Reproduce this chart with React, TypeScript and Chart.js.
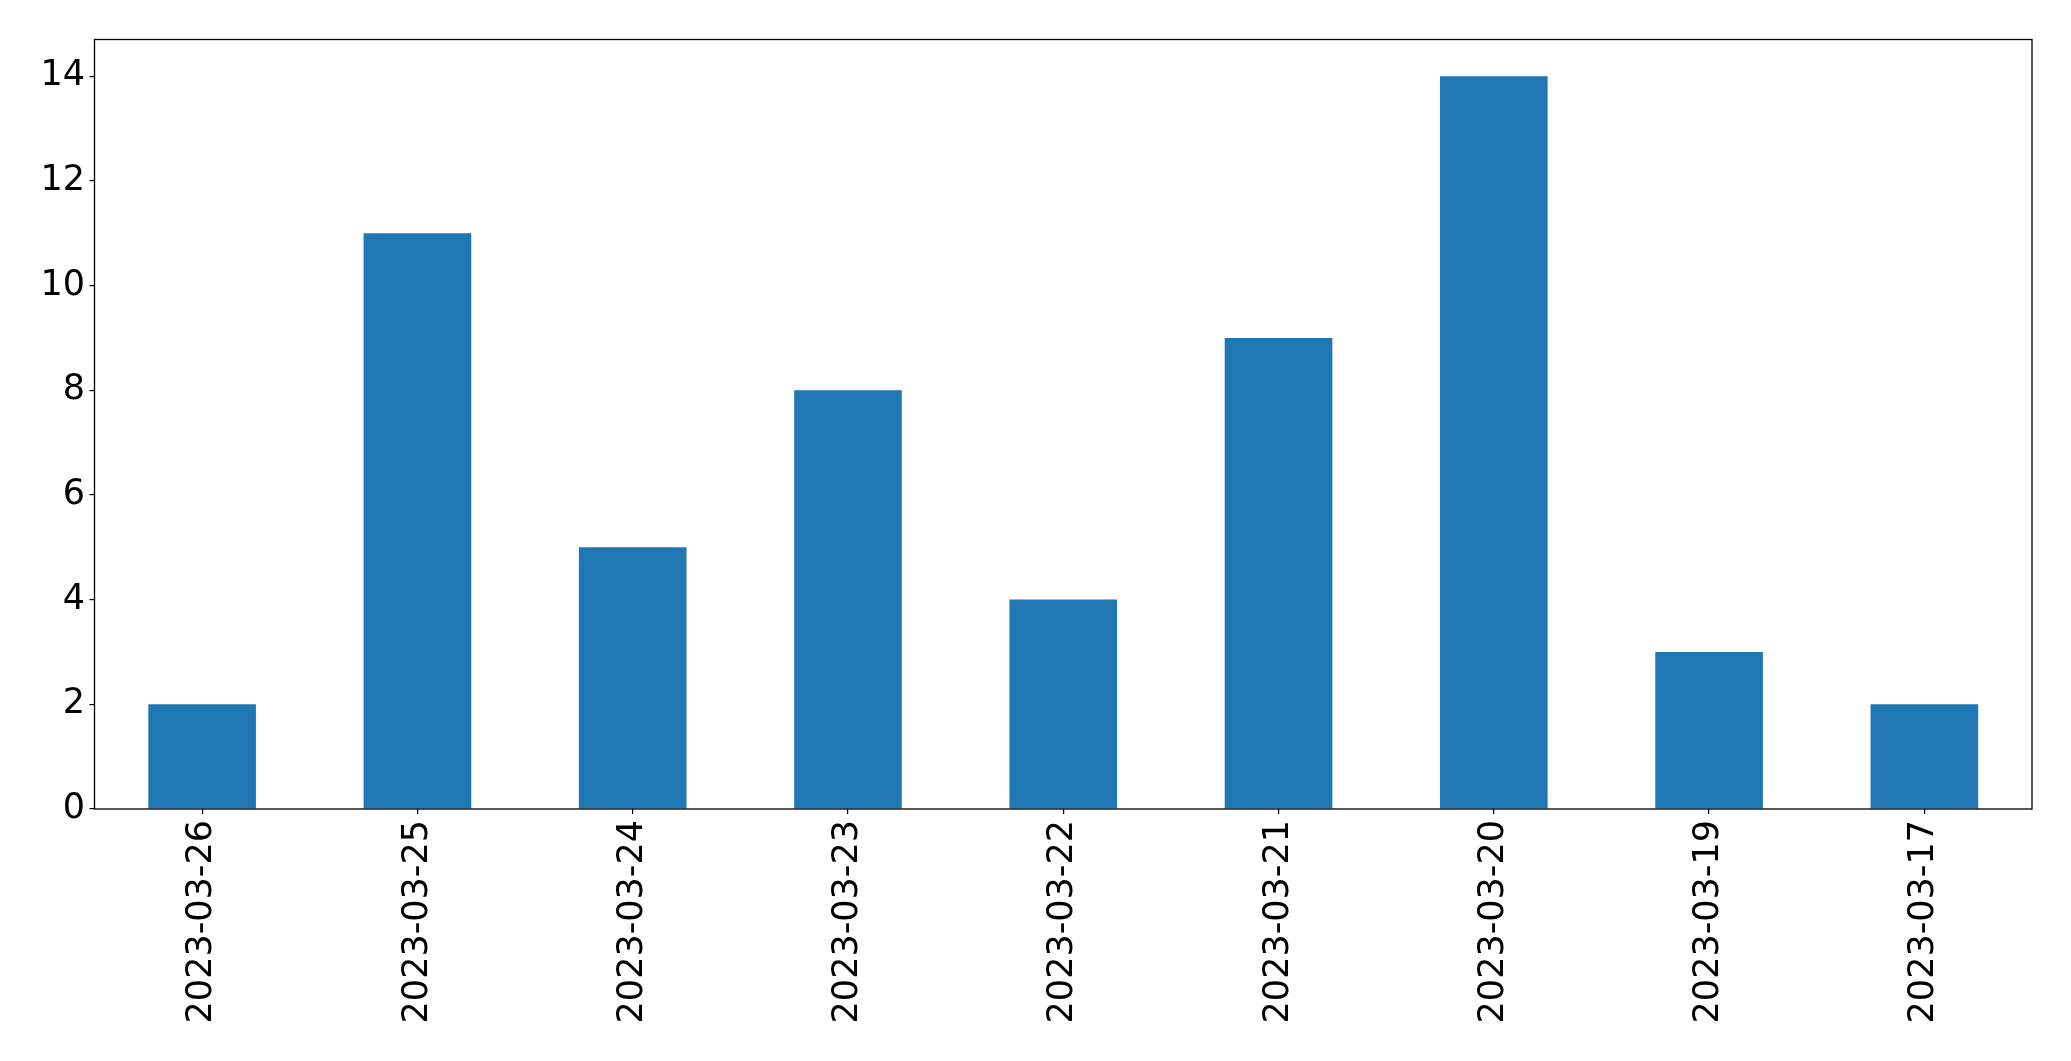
import React, { useEffect, useRef } from "react";
import { Chart, registerables } from "chart.js";

Chart.register(...registerables);

const categories = [
  "2023-03-26",
  "2023-03-25",
  "2023-03-24",
  "2023-03-23",
  "2023-03-22",
  "2023-03-21",
  "2023-03-20",
  "2023-03-19",
  "2023-03-17",
];
const values = [2, 11, 5, 8, 4, 9, 14, 3, 2];
const yTicks = [0, 2, 4, 6, 8, 10, 12, 14];
const yMax = 14.7;

const W = 2071;
const H = 1061;
const FONT = "'DejaVu Sans', sans-serif";

export default function App() {
  const ref = useRef<HTMLCanvasElement | null>(null);
  useEffect(() => {
    if (!ref.current) return;
    const frame = {
      id: "frame",
      afterDatasetsDraw(chart: any) {
        const { ctx, chartArea } = chart;
        ctx.save();
        ctx.strokeStyle = "#000";
        ctx.lineWidth = 1.3;
        ctx.strokeRect(chartArea.left, chartArea.top, chartArea.right - chartArea.left, chartArea.bottom - chartArea.top);
        ctx.restore();
      },
    };
    const chart = new Chart(ref.current, {
      type: "bar",
      data: {
        labels: categories,
        datasets: [
          {
            data: values,
            backgroundColor: "#1f77b4",
            borderWidth: 0,
            categoryPercentage: 1,
            barPercentage: 0.5,
          },
        ],
      },
      options: {
        responsive: false,
        animation: false,
        devicePixelRatio: 1,
        layout: { padding: { top: 39.5, right: 39, left: 0, bottom: 0 } },
        plugins: { legend: { display: false }, tooltip: { enabled: false } },
        scales: {
          x: {
            offset: true,
            grid: {
              display: true,
              drawOnChartArea: false,
              drawTicks: true,
              tickLength: 5,
              tickColor: "#000",
              offset: false,
              lineWidth: 1.2,
            },
            border: { display: false },
            ticks: {
              color: "#000",
              font: { family: FONT, size: 35 },
              maxRotation: 90,
              minRotation: 90,
              padding: 6,
              autoSkip: false,
            },
            afterFit(scale: any) {
              scale.height = 252;
            },
          },
          y: {
            min: 0,
            max: yMax,
            grid: {
              display: true,
              drawOnChartArea: false,
              drawTicks: true,
              tickLength: 5,
              tickColor: "#000",
              lineWidth: 1.2,
            },
            border: { display: false },
            ticks: {
              color: "#000",
              font: { family: FONT, size: 35 },
              padding: 4.5,
              includeBounds: false,
            },
            afterBuildTicks(scale: any) {
              scale.ticks = yTicks.map((v) => ({ value: v }));
            },
            afterFit(scale: any) {
              scale.width = 94.5;
            },
          },
        },
      },
      plugins: [frame],
    });
    return () => chart.destroy();
  }, []);
  return (
    <div style={{ position: "fixed", left: 0, top: 0, width: W, height: H, background: "#fff" }}>
      <canvas ref={ref} width={W} height={H} style={{ display: "block", width: W, height: H }} />
    </div>
  );
}
